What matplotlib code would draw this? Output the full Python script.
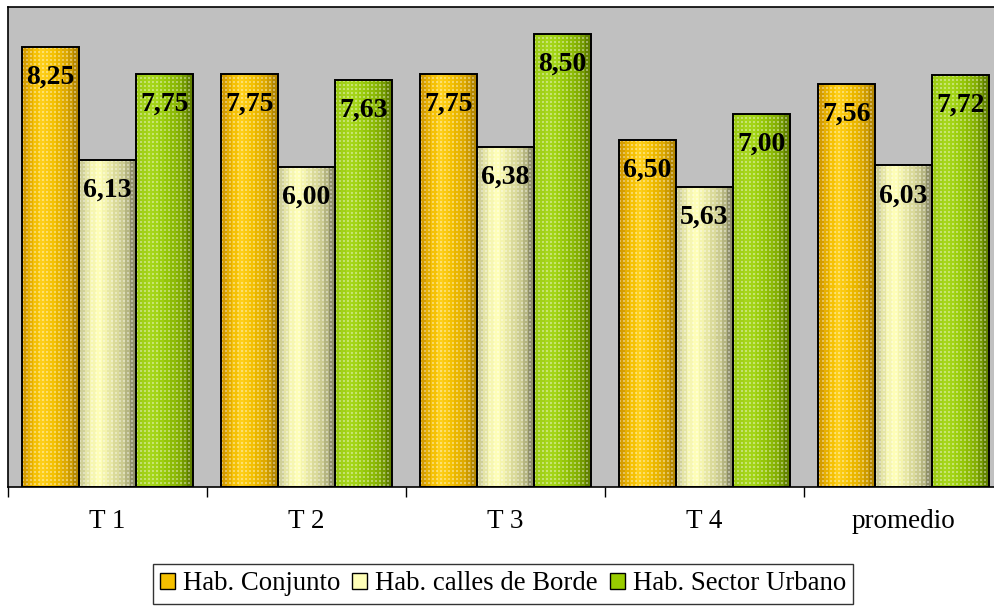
import numpy as np
import matplotlib
matplotlib.use("Agg")
import matplotlib.pyplot as plt
from matplotlib.colors import to_rgb
from matplotlib.patches import Patch

categories = ["T 1", "T 2", "T 3", "T 4", "promedio"]
series_names = ["Hab. Conjunto", "Hab. calles de Borde", "Hab. Sector Urbano"]
conjunto = [8.25, 7.75, 7.75, 6.50, 7.56]
borde = [6.13, 6.00, 6.38, 5.63, 6.03]
urbano = [7.75, 7.63, 8.50, 7.00, 7.72]
series_values = [conjunto, borde, urbano]

# cylinder-like horizontal shading for each series (position, colour)
shades = [
    [(0.0, "#D49C00"), (0.18, "#F2BC00"), (0.35, "#FFD11C"), (0.6, "#F2BE00"),
     (0.85, "#D7A300"), (1.0, "#B48700")],
    [(0.0, "#CFCF98"), (0.2, "#F5F5B0"), (0.35, "#FFFFB8"), (0.6, "#E3E3A0"),
     (0.85, "#C2C28A"), (1.0, "#90906A")],
    [(0.0, "#9CCB14"), (0.25, "#A8D81E"), (0.5, "#9ACC0C"), (0.8, "#84AE04"),
     (1.0, "#628200")],
]
legend_colors = ["#F5C000", "#FFFFB8", "#99CC00"]


def shade_row(stops, n, bands=10):
    pos = np.array([p for p, _ in stops])
    cols = np.array([to_rgb(c) for _, c in stops])
    t = (np.arange(n) + 0.5) / n
    t = np.floor(t * bands) / (bands - 1)
    t = np.clip(t, 0, 1)
    return np.stack([np.interp(t, pos, cols[:, k]) for k in range(3)], axis=1)


def texture(stops, w, h):
    row = shade_row(stops, w)
    img = np.repeat(row[None, :, :], h, axis=0)
    yy, xx = np.mgrid[0:h, 0:w]
    dots = ((xx % 4) < 2) & ((yy % 4) < 2)
    img[dots] = img[dots] * 0.62 + 0.38
    return img


plt.rcParams["font.family"] = ["Liberation Serif", "DejaVu Serif"]

fig = plt.figure(figsize=(9.95, 6.07), dpi=100)
ax = fig.add_axes([8 / 995, 120 / 607, 995 / 995, 480 / 607])
ax.set_facecolor("#C0C0C0")

x = np.arange(len(categories))
w = 1 / 3.5
bars_all = []
for k, vals in enumerate(series_values):
    bars = ax.bar(x + (k - 1) * w, vals, width=w, facecolor="none",
                  edgecolor="black", linewidth=1.4, zorder=3)
    bars_all.append(bars)

ax.set_xlim(-0.5, len(categories) - 0.5)
ax.set_ylim(0, 9)
ax.set_yticks([])
ax.set_xticks(np.arange(len(categories) + 1) - 0.5)
ax.set_xticklabels([])
ax.set_xticks(x, minor=True)
ax.set_xticklabels(categories, minor=True, fontsize=19.5)
ax.tick_params(axis="x", which="major", length=7, width=1, direction="out")
ax.tick_params(axis="x", which="minor", length=0, pad=15.5)
for s in ax.spines.values():
    s.set_linewidth(1.2)

fig.canvas.draw()
renderer = fig.canvas.get_renderer()
for k, bars in enumerate(bars_all):
    for b in bars:
        bb = b.get_window_extent(renderer)
        pw, ph = max(int(round(bb.width)), 2), max(int(round(bb.height)), 2)
        img = texture(shades[k], pw, ph)
        x0 = b.get_x()
        im = ax.imshow(img, extent=(x0, x0 + b.get_width(), 0, b.get_height()),
                       aspect="auto", interpolation="nearest", zorder=2,
                       origin="upper")
        im.set_clip_path(b)
        ax.annotate(f"{b.get_height():.2f}".replace(".", ","),
                    (x0 + b.get_width() / 2, b.get_height()),
                    xytext=(0, -26.5), textcoords="offset points",
                    ha="center", va="baseline", fontsize=20,
                    fontweight="bold", zorder=4)

ax.set_xlim(-0.5, len(categories) - 0.5)
ax.set_ylim(0, 9)

handles = [Patch(facecolor=c, edgecolor="black", linewidth=1) for c in legend_colors]
leg = fig.legend(handles, series_names, loc="center", bbox_to_anchor=(503 / 995, 1 - 584 / 607),
                 ncol=3, fontsize=19.3, frameon=True, fancybox=False,
                 handlelength=0.55, handleheight=0.55, handletextpad=0.3,
                 columnspacing=0.45, borderpad=0.28, borderaxespad=0)
leg.get_frame().set_edgecolor("black")
leg.get_frame().set_linewidth(1)

fig.savefig("out.png", dpi=100)
